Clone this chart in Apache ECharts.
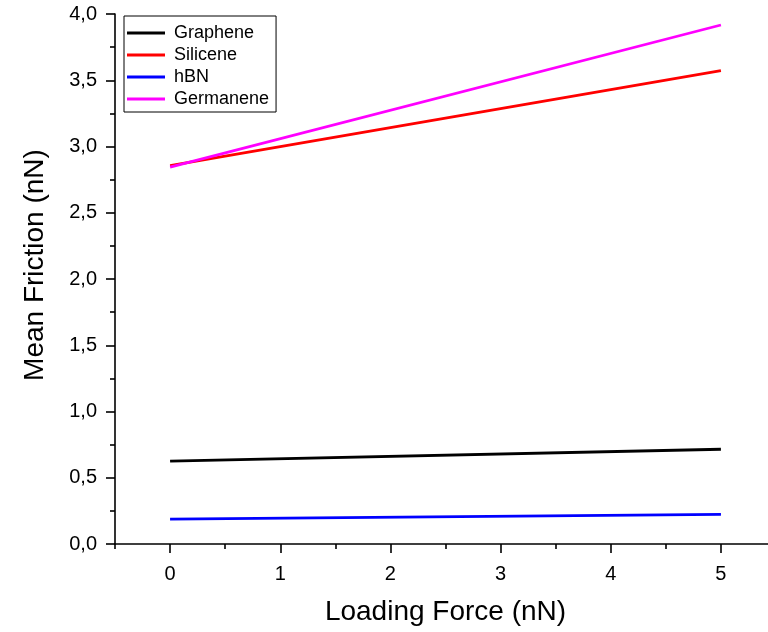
<!DOCTYPE html>
<html>
<head>
<meta charset="utf-8">
<script src="https://cdn.jsdelivr.net/npm/echarts@6/dist/echarts.min.js"></script>
<style>
  html, body { margin: 0; padding: 0; background: #fff; overflow: hidden; }
  /* the plot frame runs a little past the right edge of the page */
  #chart { width: 800px; height: 632px; }
</style>
</head>
<body>
<div id="chart"></div>
<script>
// Loading force (nN) at which the mean friction was evaluated
const loadingForce = [0, 5];

// Mean friction (nN) for each 2D material
const graphene  = [0.626, 0.715];
const silicene  = [2.855, 3.572];
const hBN       = [0.187, 0.224];
const germanene = [2.845, 3.917];

// Tick positions on the loading-force axis
const majorXTicks = [0, 1, 2, 3, 4, 5];
const minorXTicks = [-0.5, 0.5, 1.5, 2.5, 3.5, 4.5, 5.5];

const seriesNames  = ['Graphene', 'Silicene', 'hBN', 'Germanene'];
const seriesColors = ['#000000', '#ff0000', '#0000ff', '#ff00ff'];
const seriesValues = [graphene, silicene, hBN, germanene];

const FONT = '"Liberation Sans", Arial, sans-serif';
const comma = v => v.toFixed(1).replace('.', ',');
const BLACK_LINE = { color: '#000', width: 1.6 };

const chart = echarts.init(document.getElementById('chart'), null, { renderer: 'canvas' });

const series = seriesNames.map((name, i) => ({
  name,
  type: 'line',
  xAxisIndex: 0,
  yAxisIndex: 0,
  data: loadingForce.map((x, k) => [x, seriesValues[i][k]]),
  showSymbol: false,
  symbol: 'none',
  lineStyle: { color: seriesColors[i], width: 2.8 },
  itemStyle: { color: seriesColors[i] },
  animation: false
}));

chart.setOption({
  animation: false,
  backgroundColor: '#ffffff',
  grid: { left: 115, top: 14, width: 661, height: 530, containLabel: false },
  legend: {
    data: seriesNames.map((n, i) => ({ name: n, icon: 'rect', itemStyle: { color: seriesColors[i] } })),
    orient: 'vertical',
    left: 124,
    top: 16,
    itemWidth: 38,
    itemHeight: 3,
    itemGap: 4,
    padding: [8, 7, 4, 3],
    borderColor: '#000',
    borderWidth: 1,
    backgroundColor: '#fff',
    textStyle: { fontFamily: FONT, fontSize: 18, lineHeight: 18, color: '#000', padding: [0, 0, 0, 4] }
  },
  xAxis: [
    {
      type: 'value',
      min: -0.5,
      max: 5.5,
      interval: 0.5,
      name: 'Loading Force (nN)',
      nameLocation: 'middle',
      nameGap: 54,
      nameTextStyle: { fontFamily: FONT, fontSize: 28, color: '#000' },
      axisLine: { show: true, onZero: false, lineStyle: BLACK_LINE },
      axisTick: { show: true, inside: false, length: 9, customValues: majorXTicks, lineStyle: BLACK_LINE },
      axisLabel: {
        fontFamily: FONT, fontSize: 20, color: '#000', margin: 20,
        customValues: majorXTicks,
        formatter: v => String(v)
      },
      splitLine: { show: false }
    },
    {
      // half-unit ticks along the same bottom edge
      type: 'value',
      position: 'bottom',
      min: -0.5,
      max: 5.5,
      interval: 0.5,
      axisLine: { show: false, onZero: false },
      axisTick: { show: true, inside: false, length: 5, customValues: minorXTicks, lineStyle: BLACK_LINE },
      axisLabel: { show: false },
      splitLine: { show: false }
    }
  ],
  yAxis: {
    type: 'value',
    min: 0,
    max: 4,
    interval: 0.5,
    name: 'Mean Friction (nN)',
    nameLocation: 'middle',
    nameGap: 66,
    nameTextStyle: { fontFamily: FONT, fontSize: 28, color: '#000', padding: [0, 0, 0, 28] },
    axisLine: { show: true, onZero: false, lineStyle: BLACK_LINE },
    axisTick: { show: true, inside: false, length: 9, lineStyle: BLACK_LINE },
    minorTick: { show: true, splitNumber: 2, length: 5, lineStyle: BLACK_LINE },
    axisLabel: { fontFamily: FONT, fontSize: 20, color: '#000', margin: 18, formatter: comma },
    splitLine: { show: false },
    minorSplitLine: { show: false }
  },
  series
});
</script>
</body>
</html>
